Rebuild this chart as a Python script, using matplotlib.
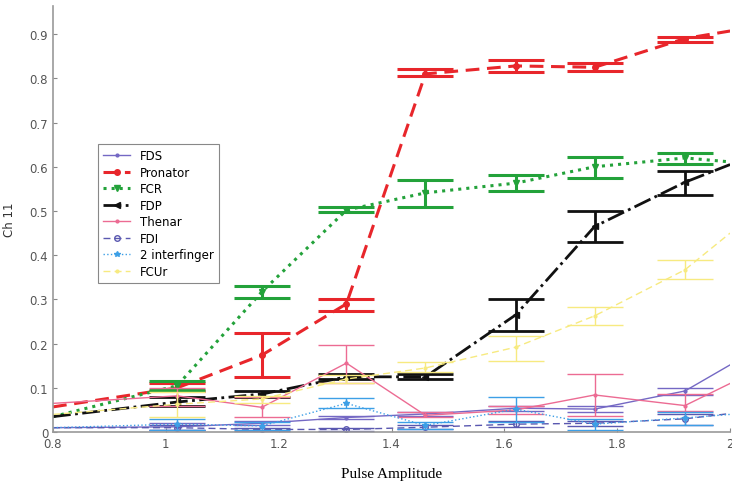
import numpy as np
import matplotlib
matplotlib.use("Agg")
import matplotlib.pyplot as plt

# pulse amplitudes (line runs to the axis edges)
x_line = [0.8, 1.02, 1.17, 1.32, 1.46, 1.62, 1.76, 1.92, 2.0]
x_pts = x_line[1:-1]

fds = [0.01, 0.012, 0.02, 0.033, 0.041, 0.054, 0.052, 0.093, 0.152]
fds_lo = [0.005, 0.015, 0.03, 0.036, 0.048, 0.045, 0.085]
fds_hi = [0.02, 0.025, 0.036, 0.046, 0.058, 0.06, 0.10]

pronator = [0.057, 0.10, 0.174, 0.29, 0.81, 0.828, 0.825, 0.89, 0.907]
pron_lo = [0.092, 0.124, 0.274, 0.805, 0.814, 0.817, 0.882]
pron_hi = [0.11, 0.224, 0.301, 0.821, 0.842, 0.835, 0.894]

fcr = [0.035, 0.105, 0.317, 0.502, 0.541, 0.563, 0.600, 0.620, 0.611]
fcr_lo = [0.095, 0.303, 0.498, 0.509, 0.545, 0.575, 0.606]
fcr_hi = [0.115, 0.330, 0.509, 0.570, 0.581, 0.622, 0.631]

fdp = [0.035, 0.068, 0.086, 0.125, 0.125, 0.265, 0.465, 0.565, 0.605]
fdp_lo = [0.059, 0.080, 0.120, 0.120, 0.228, 0.43, 0.536]
fdp_hi = [0.079, 0.092, 0.131, 0.131, 0.301, 0.50, 0.590]

thenar = [0.065, 0.082, 0.056, 0.156, 0.038, 0.05, 0.084, 0.06, 0.11]
thenar_lo = [0.06, 0.034, 0.11, 0.034, 0.04, 0.036, 0.048]
thenar_hi = [0.10, 0.08, 0.198, 0.045, 0.06, 0.131, 0.086]

fdi = [0.01, 0.01, 0.006, 0.006, 0.011, 0.018, 0.02, 0.03, 0.042]
fdi_lo = [0.005, 0.002, 0.003, 0.006, 0.012, 0.014, 0.015]
fdi_hi = [0.015, 0.01, 0.01, 0.016, 0.025, 0.026, 0.04]

inter = [0.01, 0.018, 0.014, 0.065, 0.015, 0.052, 0.018, 0.032, 0.04]
inter_lo = [0.005, 0.005, 0.055, 0.008, 0.023, 0.005, 0.015]
inter_hi = [0.03, 0.022, 0.077, 0.022, 0.079, 0.03, 0.045]

fcur = [0.04, 0.063, 0.075, 0.12, 0.145, 0.192, 0.263, 0.367, 0.45]
fcur_lo = [0.035, 0.065, 0.11, 0.136, 0.16, 0.242, 0.346]
fcur_hi = [0.09, 0.082, 0.13, 0.158, 0.217, 0.283, 0.389]

series = [
    ("FDS", fds, fds_lo, fds_hi, "#7468c4", "-", ".", 1.0, "#7468c4"),
    ("Pronator", pronator, pron_lo, pron_hi, "#e8262b", (0, (4.5, 2.5)), "o", 2.2, "#e8262b"),
    ("FCR", fcr, fcr_lo, fcr_hi, "#23a23a", ":", "v", 2.2, "#23a23a"),
    ("FDP", fdp, fdp_lo, fdp_hi, "#111111", "-.", "<", 2.0, "#111111"),
    ("Thenar", thenar, thenar_lo, thenar_hi, "#ec6b93", "-", ".", 1.0, "#ec6b93"),
    ("FDI", fdi, fdi_lo, fdi_hi, "#5a58b0", (0, (5, 3)), "o", 1.0, "none"),
    ("2 interfinger", inter, inter_lo, inter_hi, "#3d9fe6", ":", "*", 1.0, "#3d9fe6"),
    ("FCUr", fcur, fcur_lo, fcur_hi, "#f7ea80", (0, (5, 3)), ".", 1.0, "#f7ea80"),
]

fig = plt.figure(figsize=(7.32, 4.85), dpi=100)
ax = fig.add_axes([0.0724, 0.107, 0.925, 0.879])

for name, vals, lo, hi, col, ls, mk, lw, mfc in series:
    ax.plot(x_line, vals, color=col, linestyle=ls, linewidth=lw, marker=mk,
            markersize=4, markerfacecolor=mfc,
            markeredgecolor=col, markevery=list(range(1, 8)), label=name)
    mid = np.array(vals[1:-1])
    err = [mid - np.array(lo), np.array(hi) - mid]
    ax.errorbar(x_pts, mid, yerr=err, fmt="none", ecolor=col,
                elinewidth=lw, capsize=20, capthick=lw)

ax.set_xlim(0.8, 2.0)
ax.set_ylim(0, 0.964)
ax.set_xticks([0.8, 1.0, 1.2, 1.4, 1.6, 1.8, 2.0])
ax.set_xticklabels(["0.8", "1", "1.2", "1.4", "1.6", "1.8", "2"])
ax.set_yticks([0, 0.1, 0.2, 0.3, 0.4, 0.5, 0.6, 0.7, 0.8, 0.9])
ax.set_yticklabels(["0", "0.1", "0.2", "0.3", "0.4", "0.5", "0.6", "0.7", "0.8", "0.9"])
ax.tick_params(direction="in", length=3, colors="#888888", labelcolor="#555555", labelsize=8.5)
for s in ["top", "right"]:
    ax.spines[s].set_visible(False)
for s in ["left", "bottom"]:
    ax.spines[s].set_color("#999999")
    ax.spines[s].set_linewidth(1.2)

ax.set_xlabel("Pulse Amplitude", fontfamily="Liberation Serif", fontsize=11, labelpad=12)
ax.set_ylabel("Ch 11", fontsize=8.5, color="#333333", labelpad=10)

leg = ax.legend(loc="upper left", bbox_to_anchor=(0.066, 0.676), fontsize=8.5,
                fancybox=False, edgecolor="#888888", framealpha=1, borderaxespad=0,
                handlelength=2.3, borderpad=0.45, labelspacing=0.3)
leg.get_frame().set_linewidth(0.8)

fig.savefig("out.png", dpi=100)
